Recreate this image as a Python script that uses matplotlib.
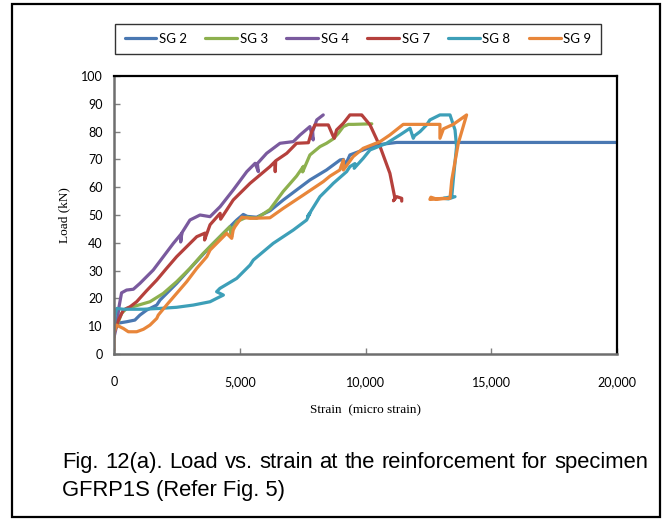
import matplotlib
matplotlib.use("Agg")
import matplotlib.pyplot as plt
from matplotlib.patches import Rectangle
from matplotlib.ticker import FuncFormatter

# strain gauge readings: strain (micro strain) vs load (kN)
sg2_strain = [0, 100, 500, 830, 1030, 1300, 1700, 1830, 2490, 3150, 3820, 4480, 4880, 5140,
              5300, 5670, 6200, 6730, 7260, 7790, 8450, 8990, 9120, 9200, 9380, 9910, 10440,
              11240, 20000]
sg2_load = [9.5, 11, 11.6, 12.2, 14, 15.8, 17.6, 19.4, 25.4, 32, 38.6, 44.6, 48.2, 50.2,
            49.5, 49.2, 51.5, 55.4, 59, 62.6, 66.2, 69.8, 70, 68, 71.6, 73.4, 75.2,
            76.1, 76.1]

sg3_strain = [0, 100, 300, 500, 900, 1430, 1960, 2490, 3020, 3550, 4080, 4610, 4680, 4650,
              4880, 5270, 5670, 6200, 6730, 7260, 7530, 7500, 7790, 8190, 8450, 8720, 8920,
              9120, 9320, 9520, 10250]
sg3_load = [8, 9.8, 14.6, 16.4, 17.4, 18.8, 21.8, 26, 30.8, 36.2, 41, 45.8, 42.2, 44,
            47.6, 49.2, 48.8, 52, 58.5, 64, 67.5, 65.5, 71.6, 74.6, 75.8, 77.4, 79.4,
            81.8, 82.6, 82.6, 82.8]

sg4_strain = [0, 100, 200, 300, 500, 770, 1030, 1560, 1960, 2360, 2690, 2650, 2700, 3020,
              3420, 3820, 4220, 4740, 5280, 5610, 5740, 5700, 6070, 6600, 7130, 7400, 7790,
              7920, 7900, 8060, 8320]
sg4_load = [6, 10, 17, 22, 23, 23.3, 25.4, 30.2, 35, 39.8, 43.4, 40.3, 43.6, 48.2,
            50, 49.4, 53, 59, 65.6, 68.6, 65.6, 68.5, 72.2, 75.8, 76.4, 78.8, 81.8,
            77, 80, 84.2, 86]

sg7_strain = [0, 170, 370, 640, 900, 1300, 1700, 2090, 2490, 2890, 3290, 3620, 3600, 3820,
              4220, 4240, 4740, 5410, 6200, 6400, 6410, 6430, 6870, 7260, 7730, 7860, 7990,
              8520, 8720, 8760, 8850, 9120, 9380, 9780, 9850, 10180, 10580, 10970, 11170,
              11110, 11240, 11440, 11440]
sg7_load = [8, 12, 15.8, 17, 18.8, 22.8, 26.6, 30.8, 35, 38.6, 42.2, 43.5, 41, 46.5,
            50.6, 48.5, 55.4, 61.4, 67.4, 69.2, 65.6, 69.5, 72.2, 75.8, 76, 80, 82.4,
            82.4, 78.2, 77.6, 80.6, 83, 86, 86, 86, 82.4, 74.6, 65, 56, 55.1, 56.6, 56, 55]

sg8_strain = [0, 50, 110, 370, 1170, 1830, 2490, 3150, 3820, 4080, 4350, 4080, 4210, 4880,
              5410, 5540, 6330, 7130, 7660, 7790, 7700, 8190, 8590, 8720, 9250, 9380, 9580,
              9550, 9910, 10180, 10840, 11370, 11770, 11900, 11950, 12170, 12430, 12560,
              12960, 13360, 13560, 13620, 13490, 13430, 13100, 13300, 13560]
sg8_load = [8.6, 14, 16.4, 16.1, 16.1, 16.4, 16.8, 17.6, 18.8, 20, 21.2, 22.4, 23.6, 27.2,
            32, 33.8, 39.8, 44.6, 48.2, 50.6, 49.5, 56.6, 60.2, 61.4, 65.6, 67.4, 68.5,
            66.8, 70.4, 73.4, 75.8, 78.8, 81.2, 77.6, 78.5, 80, 82.4, 84.2,
            86, 86, 80.6, 74.6, 62.6, 56.6, 56, 55.8, 56.6]

sg9_strain = [0, 0, 100, 370, 570, 900, 1170, 1430, 1700, 1760, 2090, 2490, 2890, 3290,
              3690, 3820, 4480, 4680, 4740, 4810, 5080, 5410, 6200, 6730, 7530, 8320, 8590,
              8980, 9120, 9120, 9510, 9910, 10580, 10970, 11500, 12030, 12960, 12960, 13100,
              13490, 14020, 13690, 13430, 13360, 12560, 12600, 12800, 13100]
sg9_load = [1.4, 7.5, 10.4, 9.2, 8, 8, 8.9, 10.4, 12.8, 14, 17.6, 21.8, 26, 30.8,
            35, 37.4, 43.4, 41.6, 44.6, 45.8, 49.2, 48.8, 49, 52.4, 57.2, 62, 64,
            66.2, 69.8, 66.2, 71, 74, 76.4, 78.8, 82.6, 82.6, 82.6, 77.6, 81,
            82.6, 86, 75.8, 62.6, 56, 55.6, 56.4, 55.8, 56]

series = [("SG 2", sg2_strain, sg2_load, "#4a78b2"),
          ("SG 3", sg3_strain, sg3_load, "#8db04e"),
          ("SG 4", sg4_strain, sg4_load, "#7a5a9e"),
          ("SG 7", sg7_strain, sg7_load, "#b5403c"),
          ("SG 8", sg8_strain, sg8_load, "#3d9fb8"),
          ("SG 9", sg9_strain, sg9_load, "#e8863a")]

W, H = 664, 519
fig = plt.figure(figsize=(W / 100, H / 100), dpi=100)

# plot area in pixel terms
left, right, top, bottom = 114, 617, 76, 354
ax = fig.add_axes([left / W, 1 - bottom / H, (right - left) / W, (bottom - top) / H])

handles = []
for name, xs, ys, col in series:
    ln, = ax.plot(xs, ys, color=col, lw=2.3, label=name, solid_joinstyle="round",
                  solid_capstyle="round")
    handles.append(ln)

ax.set_xlim(0, 20000)
ax.set_ylim(0, 100)
ax.set_xticks(range(0, 20001, 5000))
ax.set_yticks(range(0, 101, 10))
ax.xaxis.set_major_formatter(FuncFormatter(lambda v, p: f"{int(v):,}"))

for lab in ax.get_xticklabels() + ax.get_yticklabels():
    lab.set_fontfamily("Lato")
    lab.set_fontsize(9)
ax.tick_params(axis="x", direction="in", length=4, width=1, color="#808080", pad=16)
ax.tick_params(axis="y", direction="in", length=4, width=1, color="#808080", pad=8)

for s in ["left", "bottom"]:
    ax.spines[s].set_color("#6e6e6e")
    ax.spines[s].set_linewidth(1.8)
for s in ["top", "right"]:
    ax.spines[s].set_color("black")
    ax.spines[s].set_linewidth(1.6)

ax.set_xlabel("Strain  (micro strain)", family="Liberation Serif", fontsize=9.5)
ax.set_ylabel("Load (kN)", family="Liberation Serif", fontsize=9.5)
ax.xaxis.set_label_coords(0.5, (bottom - 410) / (bottom - top))
ax.yaxis.set_label_coords((64 - left) / (right - left), 0.5)
ax.xaxis.label.set_va("center")
ax.yaxis.label.set_va("center")

leg = fig.legend(handles=handles, loc="center", ncol=6,
                 bbox_to_anchor=(358 / W, 1 - 39 / H),
                 prop=dict(family="Lato", size=9.5), frameon=True, fancybox=False,
                 edgecolor="black", handlelength=2.4, handletextpad=0.2,
                 columnspacing=1.4, borderpad=0.7, borderaxespad=0)
leg.get_frame().set_linewidth(1.0)

# outer frame around chart and caption
fig.patches.append(Rectangle((12 / W, 1 - 517 / H), (660 - 12) / W, (517 - 4) / H,
                             transform=fig.transFigure, fill=False, edgecolor="black",
                             linewidth=1.6))

# caption, first line justified between x=62 and x=648
cap_words = ["Fig.", "12(a).", "Load", "vs.", "strain", "at", "the", "reinforcement",
             "for", "specimen"]
cap_line2 = "GFRP1S (Refer Fig. 5)"
cap_size = 15.8
renderer = fig.canvas.get_renderer()
texts = [fig.text(0, 1 - 468 / H, w, family="Liberation Sans", fontsize=cap_size,
                  va="baseline", ha="left") for w in cap_words]
widths = [t.get_window_extent(renderer).width for t in texts]
gap = (648 - 62 - sum(widths)) / (len(cap_words) - 1)
x = 62
for t, w in zip(texts, widths):
    t.set_x(x / W)
    x += w + gap
fig.text(62 / W, 1 - 496 / H, cap_line2, family="Liberation Sans", fontsize=cap_size,
         va="baseline", ha="left")

fig.savefig("out.png", dpi=100)
